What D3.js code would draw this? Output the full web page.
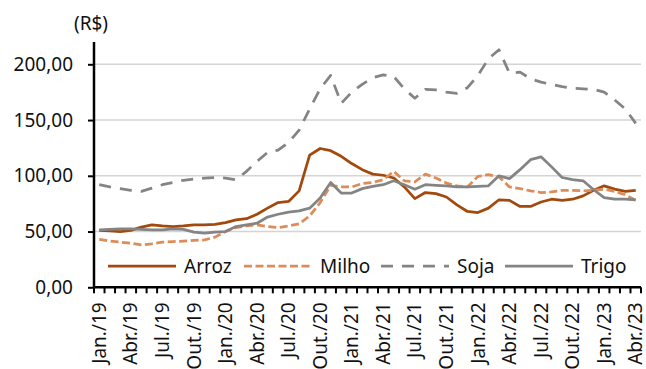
<!DOCTYPE html>
<html>
<head>
<meta charset="utf-8">
<script src="https://cdn.jsdelivr.net/npm/d3@7"></script>
<style>
  html, body { margin: 0; padding: 0; background: #fff; }
  svg { display: block; font-family: "Noto Sans", "Open Sans", sans-serif; }
</style>
</head>
<body>
<svg id="chart" width="646" height="369"></svg>
<script>
// Monthly prices (R$), Jan/2019 – Apr/2023
const monthNames = ["Jan.", "Fev.", "Mar.", "Abr.", "Mai.", "Jun.", "Jul.", "Ago.", "Set.", "Out.", "Nov.", "Dez."];
const years = ["19", "20", "21", "22", "23"];
const months = [];
years.forEach(y => monthNames.forEach(m => months.push(m + "/" + y)));
months.splice(52); // through Abr./23

const arroz = [51, 50.5, 50, 51, 54, 56, 55, 54.5, 55, 56, 56, 56.5,
  58, 60.5, 61.5, 65.5, 71, 76, 77, 86.5, 118.5, 124.5, 122.5, 117.5,
  111, 105.5, 101.5, 100.5, 98, 90, 79.5, 85, 84, 81, 74, 68,
  67, 71, 78.5, 78, 72.5, 72.5, 76.5, 79, 78, 79, 82, 87,
  91, 88, 86, 87];
const milho = [43, 41.5, 40.5, 39.5, 38, 39, 40.5, 41, 41.5, 42, 42.5, 45,
  50, 53.5, 55, 56, 54.5, 53.5, 55, 57, 64, 76, 91.5, 90,
  90, 93, 94, 96.5, 104, 95.5, 94.5, 101.5, 98, 93.5, 91, 90,
  99.5, 101, 99, 90, 88.5, 86.5, 85, 85.5, 87, 87, 86.5, 87,
  88, 86, 83, 78];
const soja = [92, 90, 88.5, 87, 86, 89, 92, 94, 96, 97, 98, 98.5,
  98, 96.5, 104, 113, 121, 123, 130, 141, 160, 178, 190, 165,
  175, 182, 188, 190.5, 189, 178, 169.5, 177.5, 177, 175, 174, 179,
  190, 205, 213, 192, 193, 187, 184, 182, 180, 178.5, 178, 177.5,
  175, 168, 160, 147];
const trigo = [51.5, 52, 52.5, 52.5, 52, 51.5, 51.5, 52.5, 52, 49.5, 48.5, 49.5,
  50, 54.5, 56, 57.5, 63, 65.5, 67.5, 68.5, 71, 80, 94, 84.5,
  84.5, 88.5, 90.5, 92, 95.5, 92, 88, 92, 91.5, 91, 90, 90,
  90.5, 91, 100, 97.5, 105.5, 114.5, 117, 108, 98.5, 96.5, 95.5, 87.5,
  80.5, 79, 79, 78.5];

const yTicks = [0, 50, 100, 150, 200];
const xTickLabels = months.filter((m, i) => i % 3 === 0);

const series = [
  { name: "Arroz", values: arroz, color: "#A24A0D", dash: null },
  { name: "Milho", values: milho, color: "#DE8C57", dash: "8,3.5" },
  { name: "Soja",  values: soja,  color: "#848484", dash: "12,9" },
  { name: "Trigo", values: trigo, color: "#848484", dash: null }
];

const svg = d3.select("#chart");
const plot = { left: 94, right: 641, top: 42, bottom: 287.3 };

const x = d3.scaleBand().domain(months).range([plot.left, plot.right]).padding(0);
const y = d3.scaleLinear().domain([0, 220]).range([plot.bottom, plot.top]);
const cx = m => x(m) + x.bandwidth() / 2;

const fmt = v => d3.format(".2f")(v).replace(".", ",");

// Horizontal gridlines
svg.append("g")
  .selectAll("line")
  .data(yTicks.filter(t => t > 0))
  .join("line")
  .attr("x1", plot.left).attr("x2", plot.right)
  .attr("y1", d => y(d)).attr("y2", d => y(d))
  .attr("stroke", "#d4d4d4").attr("stroke-width", 1.5);

// Series lines
const line = d3.line().x((d, i) => cx(months[i])).y(d => y(d));
svg.append("g")
  .selectAll("path")
  .data(series)
  .join("path")
  .attr("d", d => line(d.values))
  .attr("fill", "none")
  .attr("stroke", d => d.color)
  .attr("stroke-width", 2.75)
  .attr("stroke-linejoin", "round")
  .attr("stroke-dasharray", d => d.dash);

// Y axis
const yAxis = svg.append("g")
  .attr("transform", `translate(${plot.left},0)`)
  .call(d3.axisLeft(y).tickValues(yTicks).tickFormat(fmt).tickSize(6).tickPadding(15));
yAxis.select(".domain").attr("stroke", "#000").attr("stroke-width", 2.5)
  .attr("d", `M0,${plot.bottom}V${plot.top}`);
yAxis.selectAll(".tick line").attr("stroke", "#000").attr("stroke-width", 2);
yAxis.selectAll(".tick text").attr("font-size", 19).attr("fill", "#111")
  .attr("font-family", "'Noto Sans', sans-serif");

svg.append("text")
  .attr("x", 91).attr("y", 30)
  .attr("text-anchor", "middle")
  .attr("font-size", 19).attr("fill", "#111")
  .text("(R$)");

// X axis: a tick at each month boundary, labels every quarter
const xg = svg.append("g").attr("transform", `translate(0,${plot.bottom})`);
xg.append("line")
  .attr("x1", plot.left - 1).attr("x2", plot.right)
  .attr("stroke", "#000").attr("stroke-width", 2.5);
xg.selectAll("line.tick")
  .data(months.concat(["end"]))
  .join("line")
  .attr("class", "tick")
  .attr("x1", (d, i) => plot.left + i * x.bandwidth())
  .attr("x2", (d, i) => plot.left + i * x.bandwidth())
  .attr("y1", 0).attr("y2", 6)
  .attr("stroke", "#000").attr("stroke-width", 2);
xg.selectAll("text")
  .data(xTickLabels)
  .join("text")
  .attr("transform", d => `translate(${cx(d)},15) rotate(-90)`)
  .attr("text-anchor", "end")
  .attr("dy", "0.35em")
  .attr("font-size", 19).attr("fill", "#111")
  .text(d => d);

// Legend
const legendX = [108, 244, 381, 505];
const legend = svg.append("g").attr("transform", "translate(0,266)");
series.forEach((s, i) => {
  legend.append("line")
    .attr("x1", legendX[i]).attr("x2", legendX[i] + 68)
    .attr("stroke", s.color).attr("stroke-width", 2.75)
    .attr("stroke-dasharray", s.dash);
  legend.append("text")
    .attr("x", legendX[i] + 76).attr("dy", "0.35em")
    .attr("font-size", 19).attr("fill", "#111")
    .text(s.name);
});
</script>
</body>
</html>
